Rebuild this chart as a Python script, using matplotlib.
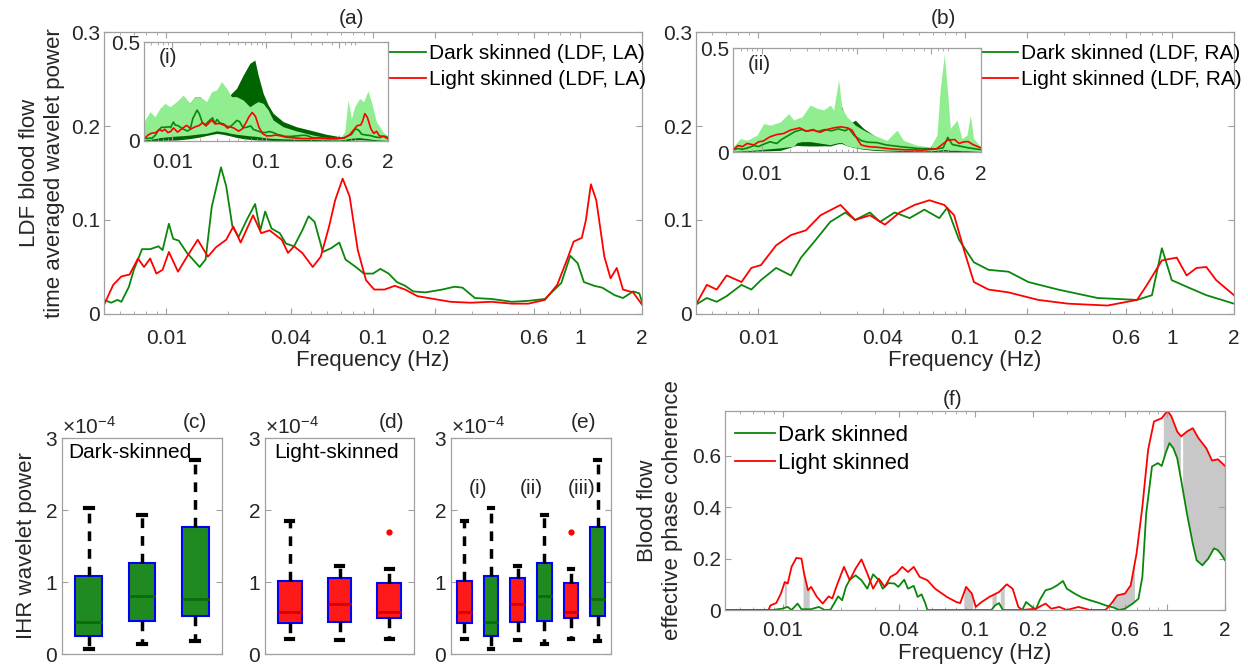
import numpy as np
import matplotlib
matplotlib.use('Agg')
import matplotlib.pyplot as plt
from matplotlib.ticker import LogLocator, NullFormatter, ScalarFormatter

plt.rcParams['font.family'] = ['Liberation Sans', 'DejaVu Sans']
plt.rcParams['mathtext.fontset'] = 'custom'
plt.rcParams['mathtext.rm'] = 'Liberation Sans'

# ---- (a) LDF, LA: time averaged wavelet power
fa_dark = [0.005, 0.00542, 0.0058, 0.00607, 0.0066, 0.00697, 0.00764, 0.00836, 0.00917, 0.0096,
           0.0103, 0.0108, 0.0115, 0.0126, 0.0145, 0.0155, 0.0166, 0.0184, 0.0195, 0.0209,
           0.0224, 0.0245, 0.0269, 0.0285, 0.0301, 0.0323, 0.0354, 0.0379, 0.0415, 0.0455,
           0.0488, 0.0522, 0.0572, 0.0627, 0.0687, 0.0736, 0.0826, 0.0904, 0.1, 0.1086,
           0.119, 0.1304, 0.143, 0.1566, 0.1796, 0.216, 0.2477, 0.271, 0.311, 0.374,
           0.47, 0.564, 0.678, 0.814, 0.9, 0.977, 1.047, 1.175, 1.285, 1.476,
           1.618, 1.811, 1.941, 2.0]
pa_dark = [0.015, 0.012, 0.015, 0.013, 0.029, 0.047, 0.069, 0.069, 0.072, 0.068,
           0.096, 0.080, 0.078, 0.065, 0.050, 0.058, 0.114, 0.156, 0.136, 0.093,
           0.082, 0.100, 0.117, 0.089, 0.109, 0.091, 0.086, 0.075, 0.072, 0.089,
           0.104, 0.098, 0.066, 0.070, 0.076, 0.058, 0.050, 0.043, 0.043, 0.048,
           0.043, 0.034, 0.030, 0.024, 0.023, 0.026, 0.029, 0.028, 0.017, 0.016,
           0.013, 0.014, 0.016, 0.033, 0.062, 0.054, 0.034, 0.030, 0.028, 0.020,
           0.017, 0.024, 0.022, 0.013]
fa_light = [0.005, 0.00554, 0.00607, 0.00665, 0.0073, 0.00781, 0.00836, 0.00896, 0.0096, 0.0103,
            0.0114, 0.0126, 0.0142, 0.0159, 0.0174, 0.0195, 0.0211, 0.0229, 0.0263, 0.0288,
            0.0316, 0.0362, 0.0388, 0.0415, 0.0455, 0.0511, 0.0559, 0.0613, 0.0656, 0.0713,
            0.0771, 0.0844, 0.0925, 0.1014, 0.1137, 0.1274, 0.143, 0.164, 0.1968, 0.2365,
            0.297, 0.374, 0.47, 0.564, 0.678, 0.778, 0.872, 0.934, 1.023, 1.071,
            1.132, 1.202, 1.315, 1.409, 1.51, 1.618, 1.811, 2.0]
pa_light = [0.0096, 0.031, 0.040, 0.042, 0.059, 0.050, 0.059, 0.043, 0.047, 0.066,
            0.045, 0.061, 0.079, 0.061, 0.071, 0.079, 0.093, 0.076, 0.105, 0.086,
            0.089, 0.079, 0.065, 0.072, 0.065, 0.050, 0.061, 0.093, 0.121, 0.144,
            0.125, 0.068, 0.036, 0.026, 0.026, 0.030, 0.026, 0.019, 0.016, 0.013,
            0.012, 0.013, 0.011, 0.011, 0.015, 0.031, 0.059, 0.077, 0.081, 0.100,
            0.138, 0.121, 0.061, 0.038, 0.049, 0.026, 0.023, 0.010]

# ---- (b) LDF, RA
fb_dark = [0.005, 0.00564, 0.0063, 0.00703, 0.0083, 0.00926, 0.0103, 0.0122, 0.0144, 0.0161,
           0.019, 0.0223, 0.0264, 0.0294, 0.0347, 0.0388, 0.0457, 0.054, 0.0636, 0.0751,
           0.082, 0.0936, 0.1104, 0.13, 0.1624, 0.2025, 0.282, 0.438, 0.68, 0.802,
           0.896, 1.0, 1.18, 1.47, 2.0]
pb_dark = [0.010, 0.017, 0.013, 0.019, 0.031, 0.026, 0.036, 0.049, 0.041, 0.060,
           0.079, 0.098, 0.108, 0.100, 0.108, 0.098, 0.108, 0.102, 0.111, 0.102,
           0.113, 0.079, 0.055, 0.047, 0.045, 0.034, 0.026, 0.017, 0.015, 0.020,
           0.070, 0.036, 0.029, 0.020, 0.011]
fb_light = [0.005, 0.00564, 0.0063, 0.00703, 0.0083, 0.00926, 0.0103, 0.0122, 0.0144, 0.017,
            0.02, 0.025, 0.0294, 0.0347, 0.041, 0.0483, 0.057, 0.0673, 0.0794, 0.0886,
            0.0989, 0.1104, 0.13, 0.1624, 0.226, 0.315, 0.489, 0.68, 0.759, 0.896,
            1.057, 1.18, 1.318, 1.47, 1.64, 2.0]
pb_light = [0.010, 0.031, 0.026, 0.041, 0.034, 0.049, 0.052, 0.073, 0.084, 0.089,
            0.105, 0.116, 0.100, 0.105, 0.095, 0.108, 0.116, 0.121, 0.116, 0.105,
            0.068, 0.034, 0.026, 0.023, 0.015, 0.011, 0.009, 0.015, 0.031, 0.057,
            0.060, 0.041, 0.049, 0.050, 0.036, 0.020]

# ---- inset (i) spread bands
fi = [0.005, 0.00579, 0.00655, 0.0074, 0.00837, 0.00946, 0.01114, 0.0131, 0.01545, 0.01746,
      0.01974, 0.02324, 0.02627, 0.0297, 0.03357, 0.038, 0.04292, 0.0485, 0.0571, 0.0672,
      0.076, 0.0825, 0.0933, 0.1054, 0.1192, 0.1523, 0.2112, 0.3178, 0.4407, 0.611,
      0.6915, 0.75, 0.814, 0.883, 0.998, 1.101, 1.224, 1.328, 1.502, 1.769, 2.0]
i_light_hi = [0.098, 0.148, 0.123, 0.165, 0.190, 0.173, 0.199, 0.232, 0.190, 0.224,
              0.224, 0.199, 0.249, 0.258, 0.300, 0.266, 0.224, 0.224, 0.207, 0.173,
              0.190, 0.199, 0.190, 0.157, 0.106, 0.072, 0.051, 0.030, 0.017, 0.013,
              0.047, 0.207, 0.114, 0.173, 0.215, 0.199, 0.253, 0.199, 0.098, 0.047, 0.022]
i_light_lo = [0.005, 0.008, 0.012, 0.017, 0.020, 0.022, 0.025, 0.027, 0.030, 0.033,
              0.036, 0.039, 0.045, 0.051, 0.048, 0.044, 0.038, 0.034, 0.030, 0.026,
              0.024, 0.022, 0.018, 0.015, 0.013, 0.011, 0.009, 0.008, 0.006, 0.005,
              0.008, 0.012, 0.014, 0.016, 0.017, 0.014, 0.012, 0.009, 0.006, 0.004, 0.003]
i_dark_hi = [0.030, 0.047, 0.056, 0.081, 0.182, 0.114, 0.182, 0.215, 0.190, 0.224,
             0.224, 0.190, 0.215, 0.232, 0.224, 0.215, 0.241, 0.266, 0.333, 0.392,
             0.409, 0.333, 0.241, 0.182, 0.140, 0.098, 0.072, 0.051, 0.034, 0.022,
             0.022, 0.030, 0.039, 0.047, 0.061, 0.051, 0.039, 0.027, 0.017, 0.013, 0.010]
i_dark_lo = [0.002, 0.002, 0.003, 0.003, 0.004, 0.004, 0.005, 0.008, 0.012, 0.016,
             0.020, 0.028, 0.033, 0.038, 0.035, 0.030, 0.024, 0.018, 0.012, 0.008,
             0.006, 0.005, 0.004, 0.004, 0.003, 0.003, 0.002, 0.002, 0.002, 0.002,
             0.002, 0.003, 0.004, 0.005, 0.006, 0.005, 0.004, 0.003, 0.002, 0.002, 0.002]

# ---- inset (ii) spread bands
fii = [0.005, 0.00597, 0.00701, 0.00893, 0.01049, 0.01232, 0.01569, 0.01919, 0.02165, 0.02346,
       0.02647, 0.03237, 0.03803, 0.04467, 0.05248, 0.05685, 0.06414, 0.06951, 0.0785, 0.096,
       0.1174, 0.1495, 0.2062, 0.2625, 0.3084, 0.4255, 0.5871, 0.69, 0.748, 0.824,
       0.893, 0.952, 1.119, 1.262, 1.425, 1.545, 1.672, 2.0]
ii_light_hi = [0.024, 0.065, 0.056, 0.081, 0.137, 0.129, 0.145, 0.185, 0.153, 0.161,
               0.169, 0.226, 0.210, 0.202, 0.226, 0.202, 0.347, 0.210, 0.169, 0.129,
               0.105, 0.081, 0.056, 0.105, 0.056, 0.032, 0.024, 0.081, 0.306, 0.468,
               0.290, 0.113, 0.153, 0.065, 0.081, 0.177, 0.065, 0.024]
ii_light_lo = [0.003, 0.005, 0.006, 0.010, 0.013, 0.016, 0.020, 0.025, 0.028, 0.045,
               0.050, 0.050, 0.045, 0.040, 0.035, 0.040, 0.045, 0.045, 0.030, 0.022,
               0.016, 0.012, 0.009, 0.008, 0.007, 0.006, 0.006, 0.008, 0.010, 0.012,
               0.010, 0.008, 0.008, 0.006, 0.006, 0.005, 0.004, 0.003]
ii_dark_hi = [0.008, 0.012, 0.016, 0.020, 0.025, 0.030, 0.040, 0.080, 0.140, 0.153,
              0.129, 0.105, 0.097, 0.100, 0.097, 0.120, 0.170, 0.218, 0.129, 0.153,
              0.113, 0.081, 0.045, 0.029, 0.025, 0.020, 0.019, 0.030, 0.045, 0.058,
              0.045, 0.030, 0.025, 0.018, 0.020, 0.015, 0.010, 0.003]
ii_dark_lo = [0.000, 0.001, 0.002, 0.004, 0.005, 0.006, 0.008, 0.020, 0.028, 0.032,
              0.030, 0.029, 0.029, 0.030, 0.029, 0.034, 0.040, 0.040, 0.030, 0.020,
              0.013, 0.008, 0.005, 0.003, 0.002, 0.002, 0.002, 0.002, 0.003, 0.004,
              0.003, 0.002, 0.002, 0.002, 0.002, 0.002, 0.001, 0.000]

# ---- (c)-(e) IHR wavelet power box statistics
ihr_dark = dict(lo=[0.07, 0.14, 0.18], q1=[0.25, 0.46, 0.53], med=[0.45, 0.81, 0.77],
                q3=[1.09, 1.26, 1.76], hi=[2.03, 1.93, 2.70], out=[[], [], []])
ihr_light = dict(lo=[0.21, 0.19, 0.21], q1=[0.43, 0.45, 0.50], med=[0.59, 0.69, 0.58],
                 q3=[1.02, 1.05, 0.98], hi=[1.85, 1.22, 1.18], out=[[], [], [1.69]])
ihr_scale = 1e-4

# ---- (f) effective phase coherence
ff_dark = [0.005, 0.00882, 0.0099, 0.0106, 0.0111, 0.01193, 0.0125, 0.014, 0.0154, 0.0165,
           0.0177, 0.01854, 0.0194, 0.02035, 0.0213, 0.0223, 0.0239, 0.02566, 0.02752, 0.0295,
           0.0316, 0.0331, 0.0355, 0.0381, 0.0399, 0.0428, 0.0448, 0.048, 0.0503, 0.0527,
           0.0552, 0.0565, 0.1216, 0.1273, 0.1333, 0.1397, 0.176, 0.1845, 0.198, 0.2073,
           0.217, 0.2328, 0.2495, 0.2675, 0.287, 0.3005, 0.3297, 0.3617, 0.397, 0.4355,
           0.4777, 0.5244, 0.5624, 0.603, 0.662, 0.709, 0.743, 0.778, 0.834, 0.895,
           0.937, 0.982, 1.028, 1.077, 1.128, 1.182, 1.267, 1.359, 1.423, 1.525,
           1.636, 1.753, 1.836, 1.923, 2.0]
pf_dark = [0, 0, 0.005, 0.012, 0, 0.025, 0.003, 0.003, 0.012, 0,
           0.001, 0.027, 0.053, 0.038, 0.090, 0.118, 0.135, 0.116, 0.083, 0.139,
           0.116, 0.083, 0.105, 0.103, 0.090, 0.118, 0.083, 0.094, 0.051, 0.061,
           0.025, 0, 0, 0.018, 0.027, 0, 0, 0.031, 0.012, 0.002,
           0.038, 0.077, 0.083, 0.096, 0.113, 0.083, 0.064, 0.048, 0.038, 0.029,
           0.018, 0.010, 0, 0.005, 0.025, 0.044, 0.129, 0.376, 0.559, 0.572,
           0.561, 0.611, 0.650, 0.630, 0.591, 0.507, 0.376, 0.259, 0.194, 0.174,
           0.200, 0.240, 0.233, 0.214, 0.194]
ff_light = [0.005, 0.00842, 0.00862, 0.00924, 0.00977, 0.01023, 0.0106, 0.0111, 0.01176, 0.0125,
            0.0129, 0.01352, 0.01403, 0.01504, 0.01613, 0.0173, 0.0181, 0.01897, 0.0208, 0.0223,
            0.0239, 0.02566, 0.02752, 0.0295, 0.0316, 0.0339, 0.0363, 0.039, 0.0418, 0.0448,
            0.048, 0.0515, 0.0565, 0.062, 0.0713, 0.08, 0.0838, 0.0899, 0.0963, 0.1009,
            0.1082, 0.1188, 0.1333, 0.1463, 0.157, 0.168, 0.176, 0.2073, 0.2328, 0.2495,
            0.274, 0.3005, 0.3454, 0.397, 0.4777, 0.5123, 0.5495, 0.603, 0.646, 0.693,
            0.743, 0.796, 0.854, 0.937, 1.005, 1.052, 1.128, 1.182, 1.267, 1.359,
            1.456, 1.598, 1.713, 1.836, 2.0]
pf_light = [0, 0, 0.018, 0.027, 0.064, 0.109, 0.103, 0.168, 0.203, 0.200,
            0.142, 0.077, 0.090, 0.051, 0.025, 0.053, 0.045, 0.090, 0.168, 0.116,
            0.161, 0.197, 0.142, 0.083, 0.122, 0.090, 0.129, 0.142, 0.168, 0.148,
            0.168, 0.129, 0.116, 0.083, 0.051, 0.031, 0.027, 0.090, 0.064, 0.012,
            0.031, 0.051, 0.070, 0.100, 0.083, 0.012, 0, 0.005, 0.025, 0.005,
            0.012, 0, 0.012, 0, 0, 0.025, 0.057, 0.064, 0.096, 0.220,
            0.402, 0.624, 0.734, 0.747, 0.776, 0.754, 0.695, 0.676, 0.695, 0.708,
            0.669, 0.630, 0.582, 0.587, 0.561]
# frequency bands with significant difference (grey)
sig_bands = [(0.01023, 0.0105), (0.0128, 0.0138), (0.0878, 0.098), (0.123, 0.13),
             (0.136, 0.143), (0.52, 0.68), (0.96, 1.18), (1.21, 2.0)]

GREEN = '#0a870a'
RED = '#ff0000'
AXC = '#a0a0a0'
TXT = '#262626'

fig = plt.figure(figsize=(12.48, 6.66), dpi=100)


def style(ax, size=15):
    for s in ax.spines.values():
        s.set_color(AXC)
        s.set_linewidth(0.9)
    ax.tick_params(which='both', direction='in', top=True, right=True,
                   color=AXC, labelcolor=TXT, labelsize=size, pad=3)
    ax.tick_params(axis='x', pad=11)
    ax.tick_params(which='major', length=4)
    ax.tick_params(which='minor', length=2)


def freq_axis(ax, ticks, labels):
    ax.set_xscale('log')
    ax.set_xlim(0.005, 2)
    ax.set_xticks(ticks, labels)
    ax.xaxis.set_minor_locator(LogLocator(base=10, subs=np.arange(2, 10)))
    ax.xaxis.set_minor_formatter(NullFormatter())


main_ticks = [0.01, 0.04, 0.1, 0.2, 0.6, 1, 2]
main_labels = ['0.01', '0.04', '0.1', '0.2', '0.6', '1', '2']

# ---- (a) and (b)
for left, (fd, pd_, fl, pl), tag, side, inset_pos, ins, band, leg_x in [
        (104, (fa_dark, pa_dark, fa_light, pa_light), '(a)', 'LA', [144, 42, 244, 99], '(i)',
         (fi, i_dark_lo, i_dark_hi, i_light_lo, i_light_hi), 388),
        (696, (fb_dark, pb_dark, fb_light, pb_light), '(b)', 'RA', [733, 48, 248, 104], '(ii)',
         (fii, ii_dark_lo, ii_dark_hi, ii_light_lo, ii_light_hi), 980)]:
    ax = fig.add_axes([left / 1248, 1 - 314 / 666, 538 / 1248, 282 / 666])
    style(ax)
    freq_axis(ax, main_ticks, main_labels)
    ax.plot(fd, pd_, color=GREEN, lw=1.3, label='Dark skinned (LDF, %s)' % side)
    ax.plot(fl, pl, color=RED, lw=1.3, label='Light skinned (LDF, %s)' % side)
    ax.set_ylim(0, 0.3)
    ax.set_yticks([0, 0.1, 0.2, 0.3], ['0', '0.1', '0.2', '0.3'])
    ax.set_xlabel('Frequency (Hz)', fontsize=16, color=TXT, labelpad=1)
    ax.set_title(tag, fontsize=15, color=TXT, x=0.46, pad=6)
    if tag == '(a)':
        ax.set_ylabel('LDF blood flow\ntime averaged wavelet power', fontsize=16,
                      color=TXT, labelpad=4, linespacing=1.25)
    ax.legend(loc='upper left', bbox_to_anchor=(leg_x / 1248, 1 - 44 / 666),
              bbox_transform=fig.transFigure, frameon=False, fontsize=15,
              handlelength=1.8, handletextpad=0.15, labelspacing=0.35,
              borderpad=0, borderaxespad=0)

    x0, y0, w, h = inset_pos
    axi = fig.add_axes([x0 / 1248, 1 - (y0 + h) / 666, w / 1248, h / 666])
    style(axi)
    axi.tick_params(axis='x', pad=9)
    freq_axis(axi, [0.01, 0.1, 0.6, 2], ['0.01', '0.1', '0.6', '2'])
    fb, dlo, dhi, llo, lhi = band
    axi.fill_between(fb, dlo, dhi, color='#006400', lw=0)
    axi.fill_between(fb, llo, lhi, color='#90ee90', lw=0)
    axi.plot(fd, pd_, color=GREEN, lw=1.2)
    axi.plot(fl, pl, color=RED, lw=1.2)
    axi.set_ylim(0, 0.5)
    axi.set_yticks([0, 0.5], ['0', '0.5'])
    axi.text(0.06, 0.84, ins, transform=axi.transAxes, fontsize=15, color=TXT,
             va='center')

# ---- (c), (d), (e) boxplots


def stats_of(d, i):
    return dict(whislo=d['lo'][i] * ihr_scale, q1=d['q1'][i] * ihr_scale,
                med=d['med'][i] * ihr_scale, q3=d['q3'][i] * ihr_scale,
                whishi=d['hi'][i] * ihr_scale,
                fliers=[v * ihr_scale for v in d['out'][i]])


def draw_boxes(ax, d, positions, face, medc, width):
    ax.bxp([stats_of(d, i) for i in range(3)], positions=positions, widths=width,
           patch_artist=True, capwidths=width * 0.3, manage_ticks=False,
           boxprops=dict(facecolor=face, edgecolor='blue', linewidth=1.5),
           medianprops=dict(color=medc, linewidth=2),
           whiskerprops=dict(color='black', linestyle=(0, (2.8, 2.3)), linewidth=2.5),
           capprops=dict(color='black', linewidth=3),
           flierprops=dict(marker='o', markerfacecolor='red', markeredgecolor='red',
                           markersize=3.5))


def box_axes(left, width, tag, tag_x, nbox):
    ax = fig.add_axes([left / 1248, 12 / 666, width / 1248, 216 / 666])
    style(ax)
    ax.set_xlim(0.5, nbox + 0.5)
    ax.set_ylim(0, 3e-4)
    ax.set_yticks([0, 1e-4, 2e-4, 3e-4])
    fmt = ScalarFormatter(useMathText=True)
    fmt.set_powerlimits((0, 0))
    ax.yaxis.set_major_formatter(fmt)
    ax.yaxis.get_offset_text().set_fontsize(15)
    ax.yaxis.get_offset_text().set_color(TXT)
    ax.set_xticks([])
    ax.tick_params(axis='x', which='both', top=False, bottom=False)
    ax.text(tag_x, 1.03, tag, transform=ax.transAxes, fontsize=15, color=TXT,
            ha='center', va='bottom')
    return ax


axc = box_axes(62, 160, '(c)', 0.83, 3)
draw_boxes(axc, ihr_dark, [1, 2, 3], '#1f8a1f', '#0b6b0b', 0.5)
axc.text(0.04, 0.935, 'Dark-skinned', transform=axc.transAxes, fontsize=15,
         color='black', va='center')
axc.set_ylabel('IHR wavelet power', fontsize=16, color=TXT, labelpad=6)

axd = box_axes(265, 149, '(d)', 0.85, 3)
draw_boxes(axd, ihr_light, [1, 2, 3], '#ff1a1a', '#d80000', 0.48)
axd.text(0.06, 0.935, 'Light-skinned', transform=axd.transAxes, fontsize=15,
         color='black', va='center')

axe = box_axes(451, 160, '(e)', 0.83, 6)
draw_boxes(axe, ihr_light, [1, 3, 5], '#ff1a1a', '#d80000', 0.56)
draw_boxes(axe, ihr_dark, [2, 4, 6], '#1f8a1f', '#0b6b0b', 0.56)
for xt, lab in [(1.5, '(i)'), (3.5, '(ii)'), (5.4, '(iii)')]:
    axe.text(xt, 2.3e-4, lab, fontsize=15, color=TXT, ha='center', va='center')

# ---- (f)
axf = fig.add_axes([725 / 1248, 56 / 666, 500 / 1248, 199 / 666])
style(axf)
axf.tick_params(axis='x', pad=8)
freq_axis(axf, main_ticks, main_labels)
grid = np.logspace(np.log10(0.005), np.log10(2), 3000)
gd = np.interp(np.log10(grid), np.log10(ff_dark), pf_dark)
gl = np.interp(np.log10(grid), np.log10(ff_light), pf_light)
mask = np.zeros_like(grid, dtype=bool)
for a, b in sig_bands:
    mask |= (grid >= a) & (grid <= b)
axf.fill_between(grid, gd, gl, where=mask, color='#c8c8c8', lw=0)
axf.plot(ff_dark, pf_dark, color=GREEN, lw=1.3, label='Dark skinned')
axf.plot(ff_light, pf_light, color=RED, lw=1.3, label='Light skinned')
axf.set_ylim(0, 0.775)
axf.set_yticks([0, 0.2, 0.4, 0.6], ['0', '0.2', '0.4', '0.6'])
axf.set_xlabel('Frequency (Hz)', fontsize=16, color=TXT, labelpad=2)
axf.set_ylabel('Blood flow\neffective phase coherence', fontsize=16, color=TXT,
               labelpad=6, linespacing=1.25)
axf.set_title('(f)', fontsize=15, color=TXT, x=0.455, pad=4)
axf.legend(loc='upper left', bbox_to_anchor=(0.02, 0.93), frameon=False, fontsize=16,
           handlelength=1.8, handletextpad=0.15, labelspacing=0.3,
           borderpad=0, borderaxespad=0)

fig.savefig('out.png', dpi=100)
